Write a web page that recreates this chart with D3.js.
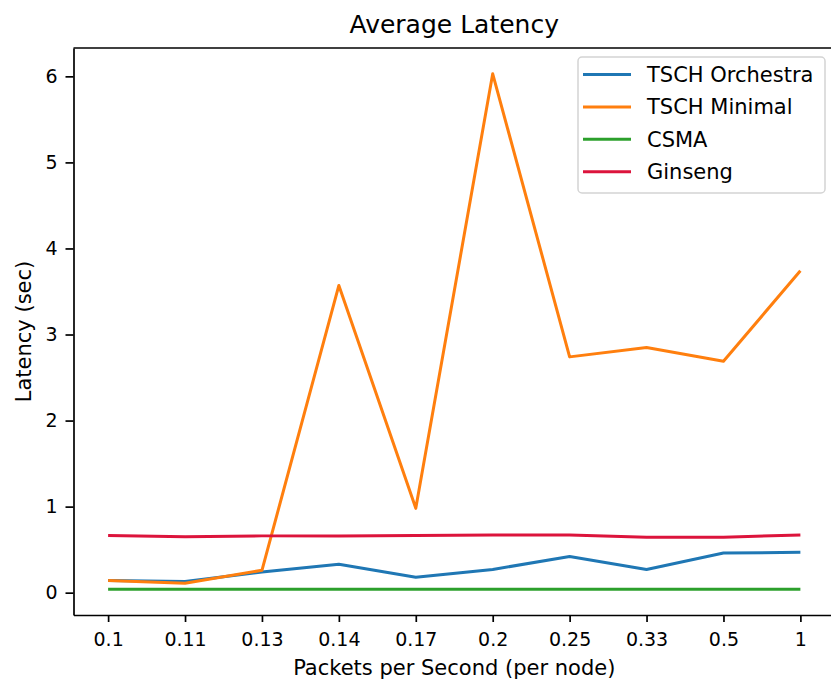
<!DOCTYPE html>
<html>
<head>
<meta charset="utf-8">
<script src="https://cdn.jsdelivr.net/npm/d3@7"></script>
<style>
  html, body { margin: 0; padding: 0; background: #fff; }
  svg { display: block; font-family: "DejaVu Sans", sans-serif; }
  .axis path, .axis line { stroke: #000; stroke-width: 1.7; }
  .axis text { fill: #000; font-size: 19px; font-family: "DejaVu Sans", sans-serif; }
</style>
</head>
<body>
<svg id="chart" width="831" height="682"></svg>
<script>
(function () {
  'use strict';

  // x categories (packets per second, per node)
  var rates = ['0.1', '0.11', '0.13', '0.14', '0.17', '0.2', '0.25', '0.33', '0.5', '1'];

  // average latency in seconds
  var orchestra = [0.14, 0.13, 0.24, 0.33, 0.18, 0.27, 0.42, 0.27, 0.46, 0.47];
  var minimal   = [0.14, 0.11, 0.26, 3.57, 0.98, 6.03, 2.74, 2.85, 2.69, 3.74];
  var csma      = [0.04, 0.04, 0.04, 0.04, 0.04, 0.04, 0.04, 0.04, 0.04, 0.04];
  var ginseng   = [0.665, 0.65, 0.66, 0.66, 0.665, 0.67, 0.67, 0.645, 0.645, 0.67];

  var yTicks = [0, 1, 2, 3, 4, 5, 6];

  var seriesNames = ['TSCH Orchestra', 'TSCH Minimal', 'CSMA', 'Ginseng'];
  var seriesColors = ['#1f77b4', '#ff7f0e', '#2ca02c', '#dc143c'];

  var series = [orchestra, minimal, csma, ginseng].map(function (values, i) {
    return { name: seriesNames[i], color: seriesColors[i], values: values };
  });

  var svg = d3.select('#chart'),
      margin = {top: 48, right: -4, bottom: 67, left: 73.5},
      width = +svg.attr('width') - margin.left - margin.right,
      height = +svg.attr('height') - margin.top - margin.bottom,
      g = svg.append('g').attr('transform', 'translate(' + margin.left + ',' + margin.top + ')');

  svg.insert('rect', ':first-child')
      .attr('width', 831)
      .attr('height', 682)
      .attr('fill', '#fff');

  // matplotlib style 5% margins around the data
  var n = rates.length;
  var xPad = (n - 1) * 0.05;
  var xScale = d3.scaleLinear()
      .domain([-xPad, n - 1 + xPad])
      .range([0, width]);

  var allValues = d3.merge(series.map(function (s) { return s.values; }));
  var yExtent = d3.extent(allValues);
  var yPad = (yExtent[1] - yExtent[0]) * 0.05;
  var yScale = d3.scaleLinear()
      .domain([yExtent[0] - yPad, yExtent[1] + yPad])
      .range([height, 0]);

  var xAxis = d3.axisBottom(xScale)
      .tickValues(d3.range(n))
      .tickFormat(function (d) { return rates[d]; })
      .tickSizeInner(7)
      .tickSizeOuter(0)
      .tickPadding(11);

  var yAxis = d3.axisLeft(yScale)
      .tickValues(yTicks)
      .tickFormat(d3.format('d'))
      .tickSizeInner(8)
      .tickSizeOuter(0)
      .tickPadding(8);

  g.append('g')
      .attr('class', 'x axis')
      .attr('transform', 'translate(0,' + height + ')')
      .call(xAxis);

  g.append('g')
      .attr('class', 'y axis')
      .call(yAxis);

  // top and right spines
  g.append('line')
      .attr('x1', 0).attr('x2', width)
      .attr('y1', 0).attr('y2', 0)
      .attr('stroke', '#000')
      .attr('stroke-width', 1.7);
  g.append('line')
      .attr('x1', width).attr('x2', width)
      .attr('y1', 0).attr('y2', height)
      .attr('stroke', '#000')
      .attr('stroke-width', 1.7);

  var line = d3.line()
      .x(function (d, i) { return xScale(i); })
      .y(function (d) { return yScale(d); });

  g.append('g')
      .attr('class', 'lines')
    .selectAll('path')
    .data(series)
    .enter().append('path')
      .attr('d', function (d) { return line(d.values); })
      .attr('fill', 'none')
      .attr('stroke', function (d) { return d.color; })
      .attr('stroke-width', 3)
      .attr('stroke-linejoin', 'round');

  // title
  svg.append('text')
      .attr('x', margin.left + width / 2)
      .attr('y', 32.5)
      .attr('text-anchor', 'middle')
      .style('font-size', '25px')
      .attr('fill', '#000')
      .text('Average Latency');

  // axis labels
  svg.append('text')
      .attr('x', margin.left + width / 2)
      .attr('y', 675)
      .attr('text-anchor', 'middle')
      .style('font-size', '21px')
      .attr('fill', '#000')
      .text('Packets per Second (per node)');

  svg.append('text')
      .attr('transform', 'translate(31,' + (margin.top + height / 2) + ') rotate(-90)')
      .attr('text-anchor', 'middle')
      .style('font-size', '21px')
      .attr('fill', '#000')
      .text('Latency (sec)');

  // legend
  var legend = svg.append('g')
      .attr('class', 'legend')
      .attr('transform', 'translate(578,57)');

  legend.append('rect')
      .attr('width', 247)
      .attr('height', 136)
      .attr('rx', 4)
      .attr('fill', '#fff')
      .attr('fill-opacity', 0.8)
      .attr('stroke', '#d4d4d4')
      .attr('stroke-width', 1.5);

  var item = legend.selectAll('.item')
      .data(series)
      .enter().append('g')
      .attr('class', 'item')
      .attr('transform', function (d, i) { return 'translate(0,' + (17.5 + i * 32.4) + ')'; });

  item.append('line')
      .attr('x1', 5).attr('x2', 53)
      .attr('stroke', function (d) { return d.color; })
      .attr('stroke-width', 3);

  item.append('text')
      .attr('x', 69)
      .attr('dy', '0.36em')
      .style('font-size', '21px')
      .attr('fill', '#000')
      .text(function (d) { return d.name; });
})();
</script>
</body>
</html>
